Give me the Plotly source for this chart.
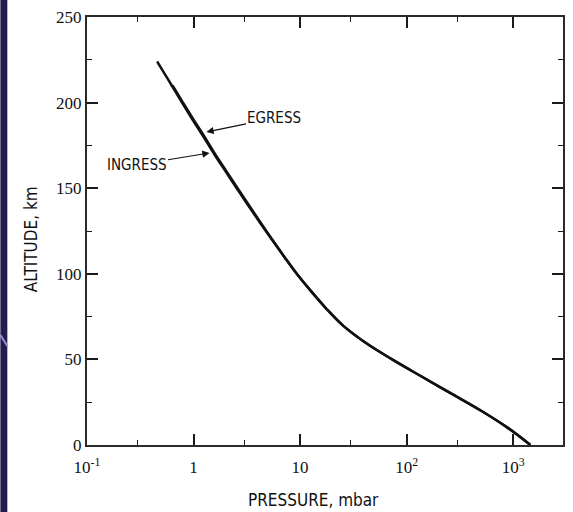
import plotly.graph_objects as go

# Data (altitude km, pressure mbar)
ingress_alt = [0, 10, 20, 30, 40, 50, 60, 70, 80, 90, 100, 110, 120, 130, 140, 150,
               160, 170, 180, 190, 200, 210, 220, 224]
ingress_p = [1450, 890, 500, 263, 138, 73, 40.5, 25, 17.4, 12.6, 9.3, 7.08, 5.43, 4.19,
             3.25, 2.54, 1.99, 1.56, 1.24, 0.98, 0.78, 0.624, 0.498, 0.455]
egress_alt = [0, 10, 20, 30, 40, 50, 60, 70, 80, 90, 100, 110, 120, 130, 140, 150,
              160, 170, 180, 190, 200, 210]
egress_p = [1450, 890, 500, 263, 138, 73, 40.5, 25, 17.4, 12.6, 9.3, 7.1, 5.47, 4.25,
            3.31, 2.59, 2.03, 1.59, 1.27, 1.0, 0.795, 0.635]

x_tickvals = [0.1, 1, 10, 100, 1000]
x_ticktext = ["10<sup>-1</sup>", "1", "10", "10<sup>2</sup>", "10<sup>3</sup>"]
x_minor = [0.3, 3, 30, 300]
y_tickvals = [0, 50, 100, 150, 200, 250]
y_minor = [25, 75, 125, 175, 225]

W, H = 573, 512
L, R, T, B = 87, 8, 17, 67
pw, ph = W - L - R, H - T - B

def px(xp):
    return (xp - L) / pw

def py(yp):
    return (H - B - yp) / ph

fig = go.Figure()
fig.add_trace(go.Scatter(x=ingress_p, y=ingress_alt, mode="lines", name="INGRESS",
                         line=dict(color="#111111", width=2.5, shape="spline", smoothing=1.0),
                         showlegend=False))
fig.add_trace(go.Scatter(x=egress_p, y=egress_alt, mode="lines", name="EGRESS",
                         line=dict(color="#111111", width=2.5, shape="spline", smoothing=1.0),
                         showlegend=False))

axis_common = dict(showgrid=False, zeroline=False, showline=True, linecolor="#2a2a2a",
                   linewidth=2, ticks="inside", ticklen=11, tickwidth=1.6,
                   tickcolor="#1a1a1a", mirror="allticks",
                   tickfont=dict(family="Liberation Serif", size=17, color="#111111"))

fig.update_xaxes(type="log", range=[-1, 3.467], tickmode="array",
                 tickvals=x_tickvals, ticktext=x_ticktext, ticklabelstandoff=6,
                 minor=dict(tickmode="array", tickvals=x_minor, ticks="inside",
                            ticklen=5, tickwidth=1.4, tickcolor="#1a1a1a"),
                 **axis_common)
fig.update_yaxes(range=[0, 250], tickmode="array", tickvals=y_tickvals,
                 minor=dict(tickmode="array", tickvals=y_minor, ticks="inside",
                            ticklen=5, tickwidth=1.4, tickcolor="#1a1a1a"),
                 **axis_common)

label_font = dict(family="DejaVu Sans Condensed", size=15, color="#111111")

annotations = [
    dict(text="PRESSURE, mbar", xref="paper", yref="paper", x=px(314), y=py(500),
         xanchor="center", yanchor="middle", showarrow=False,
         font=dict(family="DejaVu Sans Condensed", size=17, color="#111111")),
    dict(text="ALTITUDE, km", xref="paper", yref="paper", x=px(31), y=py(239),
         xanchor="center", yanchor="middle", textangle=-90, showarrow=False,
         font=dict(family="DejaVu Sans Condensed", size=17, color="#111111")),
    dict(text="EGRESS", x=0.121, y=182.8, xref="x", yref="y", ax=68, ay=-14,
         showarrow=True, arrowhead=2, arrowsize=1.2, arrowwidth=1.2, arrowcolor="#111111",
         font=label_font),
    dict(text="INGRESS", x=0.15, y=170.6, xref="x", yref="y", ax=-73, ay=12,
         showarrow=True, arrowhead=2, arrowsize=1.2, arrowwidth=1.2, arrowcolor="#111111",
         font=label_font),
]

shapes = [
    dict(type="rect", xref="paper", yref="paper", x0=px(0), x1=px(7), y0=py(H), y1=py(0),
         fillcolor="#261a50", line=dict(width=0), layer="below"),
    dict(type="line", xref="paper", yref="paper", x0=px(0), y0=py(335), x1=px(7), y1=py(346),
         line=dict(color="#9d90d2", width=2)),
]

fig.update_layout(width=W, height=H, margin=dict(l=L, r=R, t=T, b=B),
                  paper_bgcolor="white", plot_bgcolor="white",
                  annotations=annotations, shapes=shapes, showlegend=False)

fig.write_html("out.html")
